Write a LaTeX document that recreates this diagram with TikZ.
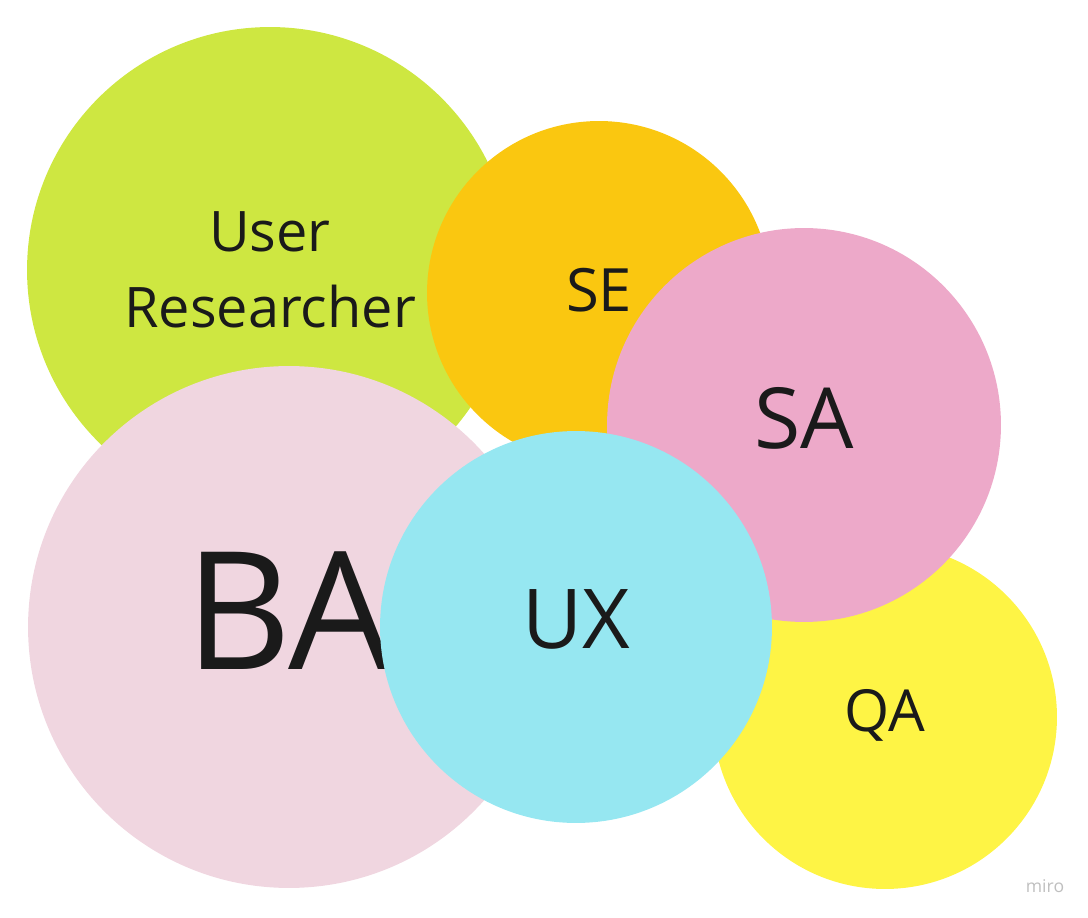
\documentclass[tikz,border=0pt]{standalone}
\usepackage{fontspec}
\setmainfont{Open Sans}
\usepackage{tikz}
\usepackage{xcolor}

\definecolor{researchgreen}{HTML}{CEE741}
\definecolor{seorange}{HTML}{FAC710}
\definecolor{sapink}{HTML}{EDA9C9}
\definecolor{qayellow}{HTML}{FEF445}
\definecolor{bapink}{HTML}{F0D6E0}
\definecolor{uxcyan}{HTML}{96E7F1}
\definecolor{labeltext}{HTML}{1A1A1A}

\begin{document}
\begin{tikzpicture}[
            x=0.02cm, y=-0.02cm,
            bubble/.style={circle, inner sep=0pt, text=labeltext, align=center},
            watermark/.style={text=black!25, font=\fontsize{10pt}{12pt}\selectfont}
        ]

            % Page frame
            \useasboundingbox (0,0) rectangle (1088,918);

            % User Researcher bubble
            \node[bubble, fill=researchgreen, minimum size=9.72cm,
                font=\fontsize{31.8pt}{43pt}\selectfont] (researcher) at (270,270) {User\\Researcher};

            % SE bubble
            \node[bubble, fill=seorange, minimum size=6.88cm, text depth=0.14cm,
                font=\fontsize{34pt}{40pt}\selectfont] (se) at (599,293) {SE};

            % QA bubble
            \node[bubble, fill=qayellow, minimum size=6.88cm, text depth=0.26cm,
                font=\fontsize{33pt}{40pt}\selectfont] (qa) at (885,717) {QA};

            % SA bubble
            \node[bubble, fill=sapink, minimum size=7.88cm, text depth=0.3cm,
                font=\fontsize{48pt}{56pt}\selectfont] (sa) at (804,425) {SA};

            % BA bubble
            \node[bubble, fill=bapink, minimum size=10.44cm, text depth=0.64cm,
                font=\fontsize{93.5pt}{110pt}\selectfont] (ba) at (289,627) {BA};

            % UX bubble on top
            \node[bubble, fill=uxcyan, minimum size=7.84cm, text depth=0.3cm,
                font=\fontsize{47pt}{56pt}\selectfont] (ux) at (576,627) {UX};

            % Watermark
            \node[watermark] (miro) at (1045,886) {miro};

        \end{tikzpicture}
\end{document}
